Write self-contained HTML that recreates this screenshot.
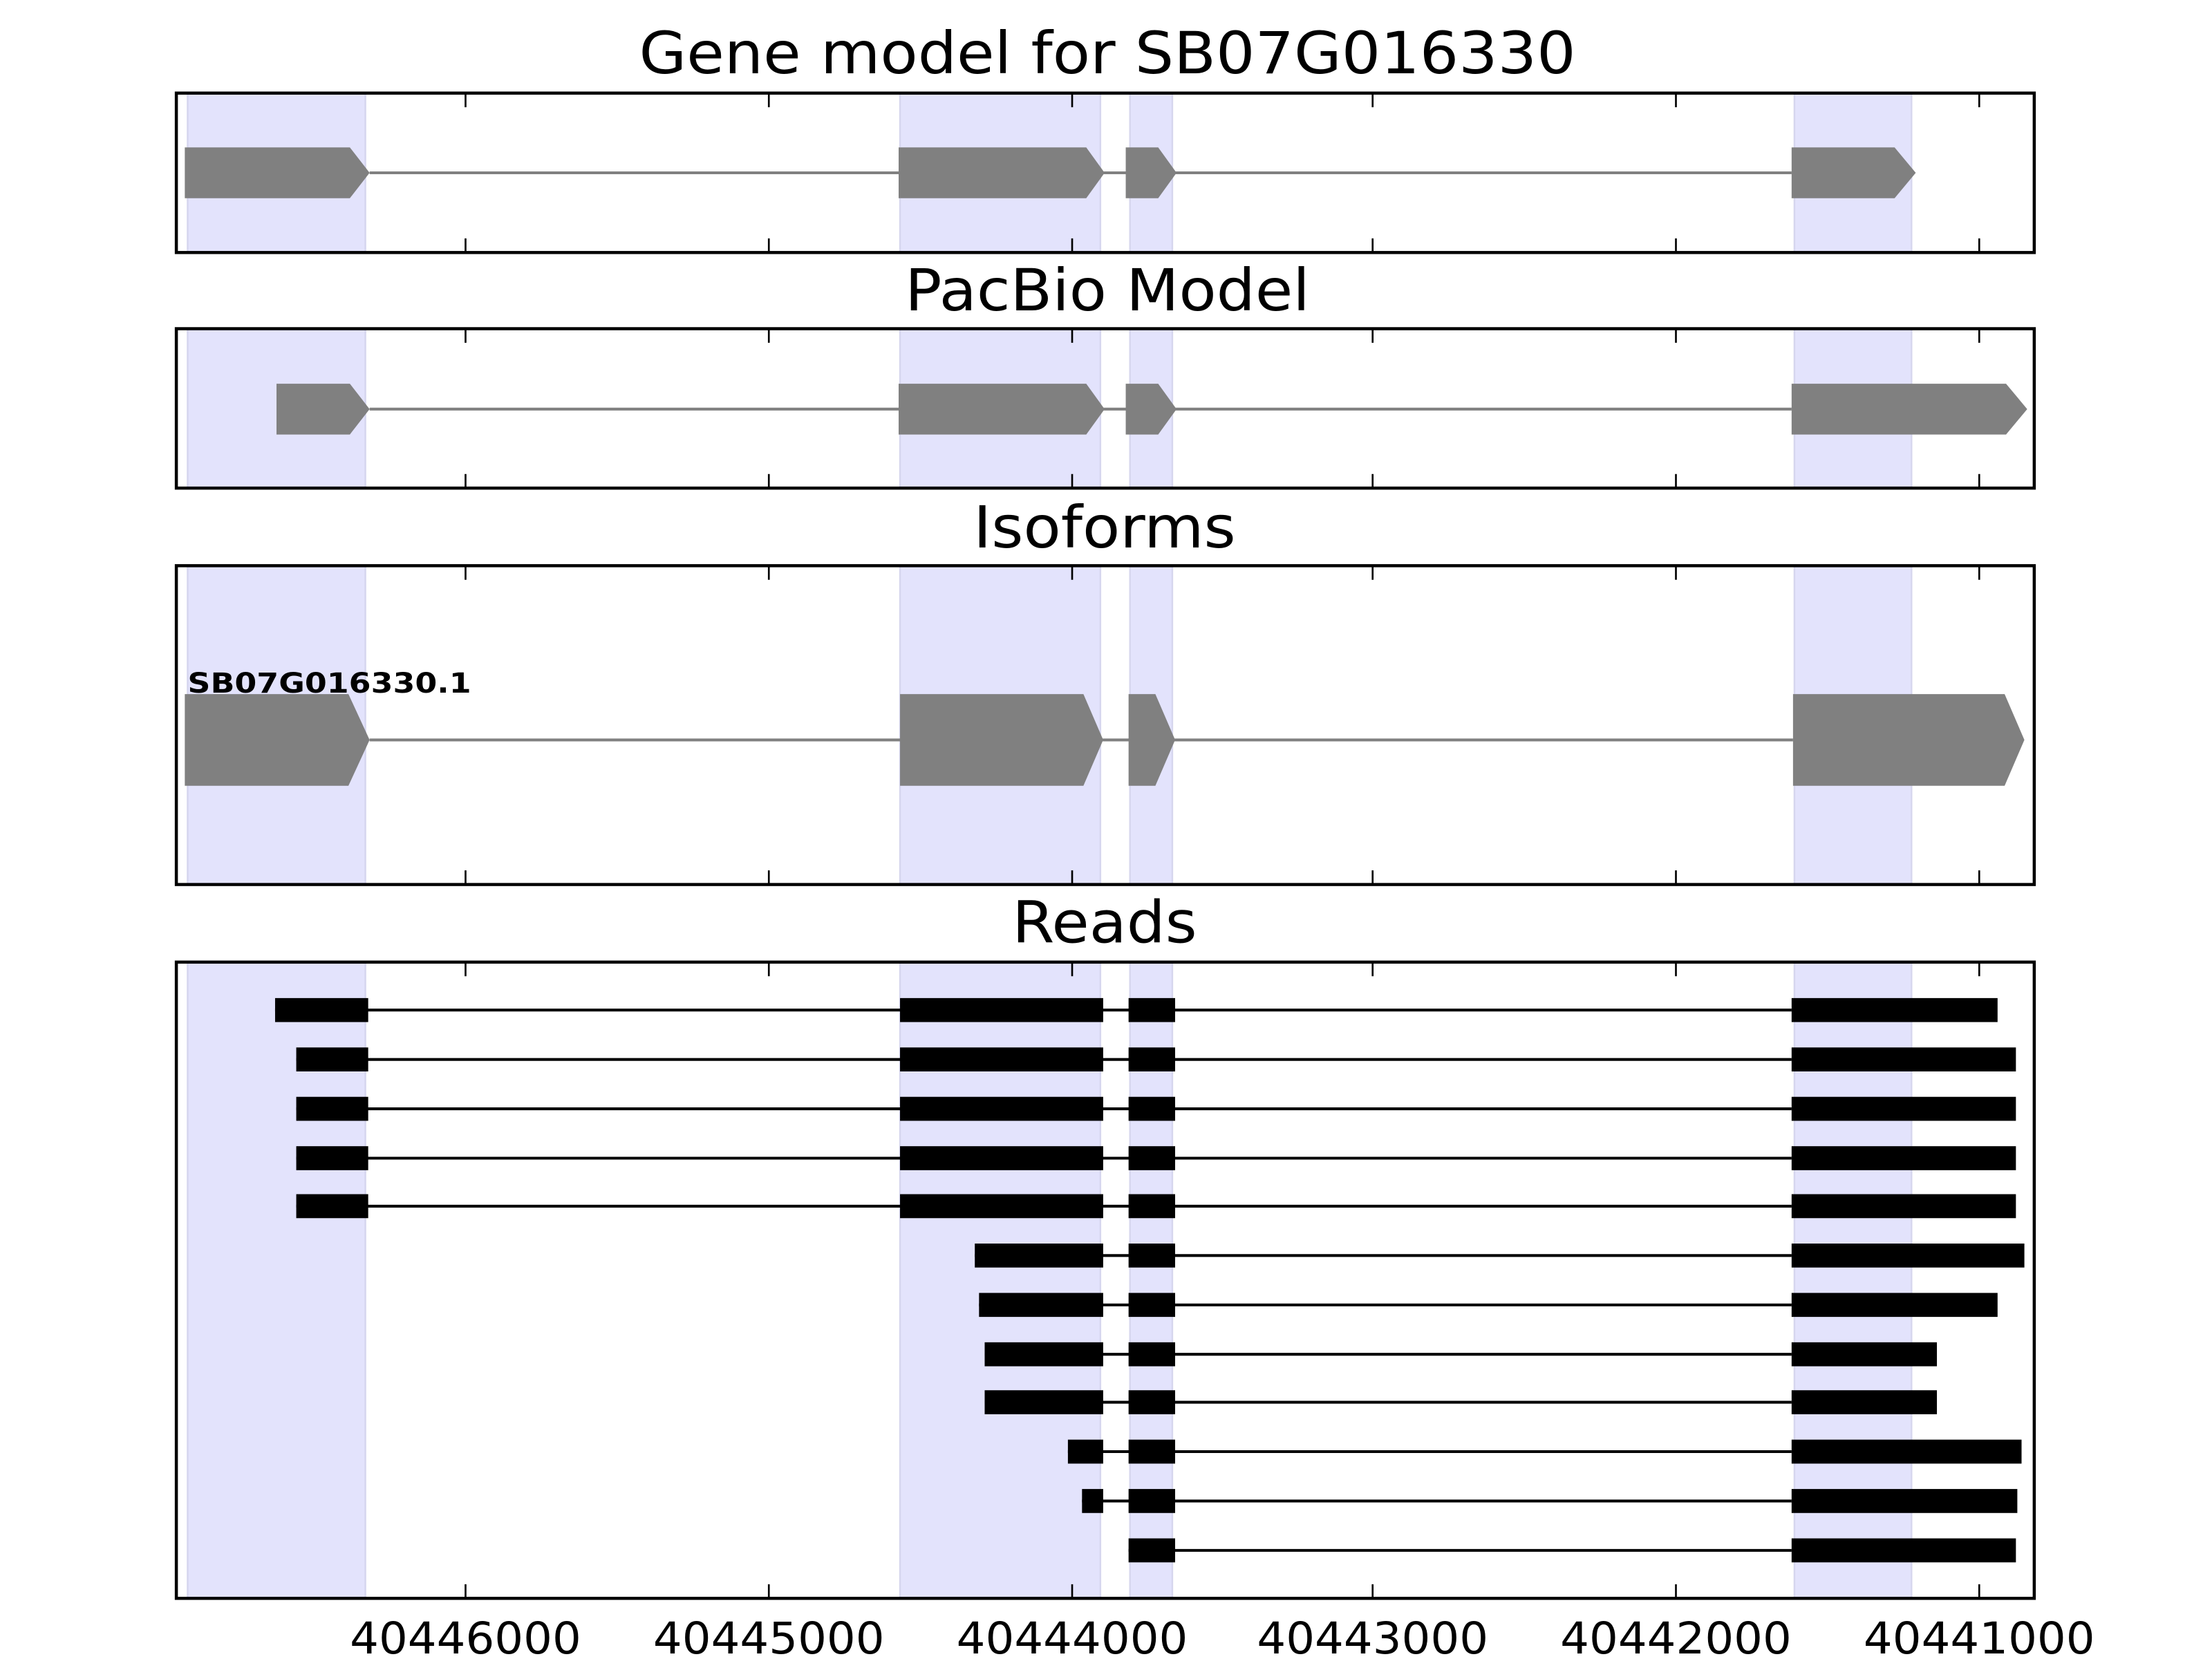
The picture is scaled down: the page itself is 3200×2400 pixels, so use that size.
<!DOCTYPE html>
<html><head><meta charset="utf-8"><style>
html,body{margin:0;padding:0;background:#fff;}
svg{display:block;}
text{font-family:"DejaVu Sans","Liberation Sans",sans-serif;}
</style></head><body>
<svg width="3200" height="2400" viewBox="0 0 1568 1176" xmlns="http://www.w3.org/2000/svg">
<rect width="1568" height="1176" fill="#fff"/>
<!-- titles -->
<g font-size="41" fill="#000" text-anchor="middle">
<text x="785" y="52" textLength="664" lengthAdjust="spacingAndGlyphs">Gene model for SB07G016330</text>
<text x="785" y="220" textLength="287" lengthAdjust="spacingAndGlyphs">PacBio Model</text>
<text x="783" y="388" textLength="186" lengthAdjust="spacingAndGlyphs">Isoforms</text>
<text x="783" y="668" textLength="131" lengthAdjust="spacingAndGlyphs">Reads</text>
</g>
<defs>
<g id="shade1">
<rect x="133" width="126" fill="#e3e3fc" stroke="#d8d8f0" stroke-width="1.5"/>
</g>
</defs>
<!-- shading helper: drawn per panel -->
<g fill="#e3e3fc" stroke="#d6d6ee" stroke-width="1.2">
<rect x="133" y="66" width="126" height="113"/><rect x="638" y="66" width="142" height="113"/><rect x="801" y="66" width="30" height="113"/><rect x="1272" y="66" width="83" height="113"/>
<rect x="133" y="233" width="126" height="113"/><rect x="638" y="233" width="142" height="113"/><rect x="801" y="233" width="30" height="113"/><rect x="1272" y="233" width="83" height="113"/>
<rect x="133" y="401" width="126" height="226"/><rect x="638" y="401" width="142" height="226"/><rect x="801" y="401" width="30" height="226"/><rect x="1272" y="401" width="83" height="226"/>
<rect x="133" y="682" width="126" height="451"/><rect x="638" y="682" width="142" height="451"/><rect x="801" y="682" width="30" height="451"/><rect x="1272" y="682" width="83" height="451"/>
</g>
<!-- gene model -->
<g fill="#808080">
<line x1="262" y1="122.5" x2="1270" y2="122.5" stroke="#808080" stroke-width="2"/>
<polygon points="131,104.5 248,104.5 262,122.5 248,140.5 131,140.5"/>
<polygon points="637,104.5 770,104.5 783,122.5 770,140.5 637,140.5"/>
<polygon points="798,104.5 821,104.5 834,122.5 821,140.5 798,140.5"/>
<polygon points="1270,104.5 1343,104.5 1358,122.5 1343,140.5 1270,140.5"/>
</g>
<!-- pacbio -->
<g fill="#808080">
<line x1="262" y1="290" x2="1270" y2="290" stroke="#808080" stroke-width="2"/>
<polygon points="196,272 248,272 262,290 248,308 196,308"/>
<polygon points="637,272 770,272 783,290 770,308 637,308"/>
<polygon points="798,272 821,272 834,290 821,308 798,308"/>
<polygon points="1270,272 1422,272 1437,290 1422,308 1270,308"/>
</g>
<!-- isoforms -->
<g fill="#808080">
<line x1="262" y1="524.5" x2="1271" y2="524.5" stroke="#808080" stroke-width="2"/>
<polygon points="131,492 247,492 262,524.5 247,557 131,557"/>
<polygon points="638,492 768,492 782,524.5 768,557 638,557"/>
<polygon points="800,492 819,492 833,524.5 819,557 800,557"/>
<polygon points="1271,492 1421,492 1435,524.5 1421,557 1271,557"/>
</g>
<text x="133" y="491" font-size="19.5" font-weight="bold" textLength="201" lengthAdjust="spacingAndGlyphs">SB07G016330.1</text>
<!-- reads -->
<g fill="#000" stroke="none">
<!-- row template: line + rects -->
<g transform="translate(0,716)"><line x1="195" y1="0" x2="1270" y2="0" stroke="#000" stroke-width="2"/><rect x="195" y="-8.5" width="66" height="17"/><rect x="638" y="-8.5" width="144" height="17"/><rect x="800" y="-8.5" width="33" height="17"/><rect x="1270" y="-8.5" width="146" height="17"/></g>
<g transform="translate(0,751)"><line x1="210" y1="0" x2="1270" y2="0" stroke="#000" stroke-width="2"/><rect x="210" y="-8.5" width="51" height="17"/><rect x="638" y="-8.5" width="144" height="17"/><rect x="800" y="-8.5" width="33" height="17"/><rect x="1270" y="-8.5" width="159" height="17"/></g>
<g transform="translate(0,786)"><line x1="210" y1="0" x2="1270" y2="0" stroke="#000" stroke-width="2"/><rect x="210" y="-8.5" width="51" height="17"/><rect x="638" y="-8.5" width="144" height="17"/><rect x="800" y="-8.5" width="33" height="17"/><rect x="1270" y="-8.5" width="159" height="17"/></g>
<g transform="translate(0,821)"><line x1="210" y1="0" x2="1270" y2="0" stroke="#000" stroke-width="2"/><rect x="210" y="-8.5" width="51" height="17"/><rect x="638" y="-8.5" width="144" height="17"/><rect x="800" y="-8.5" width="33" height="17"/><rect x="1270" y="-8.5" width="159" height="17"/></g>
<g transform="translate(0,855)"><line x1="210" y1="0" x2="1270" y2="0" stroke="#000" stroke-width="2"/><rect x="210" y="-8.5" width="51" height="17"/><rect x="638" y="-8.5" width="144" height="17"/><rect x="800" y="-8.5" width="33" height="17"/><rect x="1270" y="-8.5" width="159" height="17"/></g>
<g transform="translate(0,890)"><line x1="691" y1="0" x2="1270" y2="0" stroke="#000" stroke-width="2"/><rect x="691" y="-8.5" width="91" height="17"/><rect x="800" y="-8.5" width="33" height="17"/><rect x="1270" y="-8.5" width="165" height="17"/></g>
<g transform="translate(0,925)"><line x1="694" y1="0" x2="1270" y2="0" stroke="#000" stroke-width="2"/><rect x="694" y="-8.5" width="88" height="17"/><rect x="800" y="-8.5" width="33" height="17"/><rect x="1270" y="-8.5" width="146" height="17"/></g>
<g transform="translate(0,960)"><line x1="698" y1="0" x2="1270" y2="0" stroke="#000" stroke-width="2"/><rect x="698" y="-8.5" width="84" height="17"/><rect x="800" y="-8.5" width="33" height="17"/><rect x="1270" y="-8.5" width="103" height="17"/></g>
<g transform="translate(0,994)"><line x1="698" y1="0" x2="1270" y2="0" stroke="#000" stroke-width="2"/><rect x="698" y="-8.5" width="84" height="17"/><rect x="800" y="-8.5" width="33" height="17"/><rect x="1270" y="-8.5" width="103" height="17"/></g>
<g transform="translate(0,1029)"><line x1="757" y1="0" x2="1270" y2="0" stroke="#000" stroke-width="2"/><rect x="757" y="-8.5" width="25" height="17"/><rect x="800" y="-8.5" width="33" height="17"/><rect x="1270" y="-8.5" width="163" height="17"/></g>
<g transform="translate(0,1064)"><line x1="767" y1="0" x2="1270" y2="0" stroke="#000" stroke-width="2"/><rect x="767" y="-8.5" width="15" height="17"/><rect x="800" y="-8.5" width="33" height="17"/><rect x="1270" y="-8.5" width="160" height="17"/></g>
<g transform="translate(0,1099)"><line x1="800" y1="0" x2="1270" y2="0" stroke="#000" stroke-width="2"/><rect x="800" y="-8.5" width="33" height="17"/><rect x="1270" y="-8.5" width="159" height="17"/></g>
</g>
<!-- frames and ticks -->
<g fill="none" stroke="#000" stroke-width="2.2">
<rect x="125" y="66" width="1317" height="113"/>
<rect x="125" y="233" width="1317" height="113"/>
<rect x="125" y="401" width="1317" height="226"/>
<rect x="125" y="682" width="1317" height="451"/>
</g>
<g stroke="#000" stroke-width="1.3">
<path d="M330,66v10M545,66v10M760,66v10M973,66v10M1188,66v10M1403,66v10
M330,179v-10M545,179v-10M760,179v-10M973,179v-10M1188,179v-10M1403,179v-10
M330,233v10M545,233v10M760,233v10M973,233v10M1188,233v10M1403,233v10
M330,346v-10M545,346v-10M760,346v-10M973,346v-10M1188,346v-10M1403,346v-10
M330,401v10M545,401v10M760,401v10M973,401v10M1188,401v10M1403,401v10
M330,627v-10M545,627v-10M760,627v-10M973,627v-10M1188,627v-10M1403,627v-10
M330,682v10M545,682v10M760,682v10M973,682v10M1188,682v10M1403,682v10
M330,1133v-10M545,1133v-10M760,1133v-10M973,1133v-10M1188,1133v-10M1403,1133v-10"/>
</g>
<g font-size="31" text-anchor="middle" fill="#000">
<text x="330" y="1172" textLength="164" lengthAdjust="spacingAndGlyphs">40446000</text>
<text x="545" y="1172" textLength="164" lengthAdjust="spacingAndGlyphs">40445000</text>
<text x="760" y="1172" textLength="164" lengthAdjust="spacingAndGlyphs">40444000</text>
<text x="973" y="1172" textLength="164" lengthAdjust="spacingAndGlyphs">40443000</text>
<text x="1188" y="1172" textLength="164" lengthAdjust="spacingAndGlyphs">40442000</text>
<text x="1403" y="1172" textLength="164" lengthAdjust="spacingAndGlyphs">40441000</text>
</g>
</svg>
</body></html>
